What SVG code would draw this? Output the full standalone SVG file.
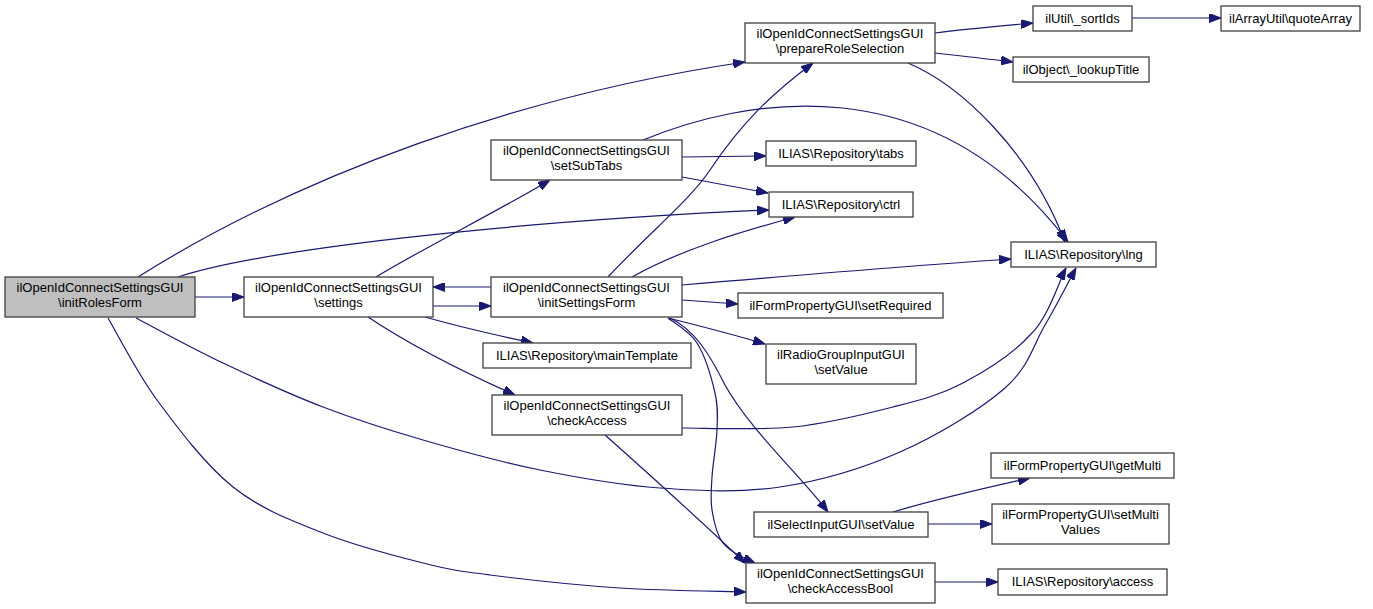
<svg xmlns="http://www.w3.org/2000/svg" width="1373" height="609" viewBox="0 0 1373 609">
<style>
.n rect{fill:#ffffff;stroke:#404040;stroke-width:1.3}
.n.root rect{fill:#bfbfbf}
.n text{font-family:"Liberation Sans",Arial,sans-serif;font-size:13px;fill:#000000;text-anchor:middle}
.e path{fill:none;stroke:#191970;stroke-width:1.2;marker-end:url(#ah)}
</style>
<defs>
<marker id="ah" markerUnits="userSpaceOnUse" markerWidth="12" markerHeight="9" refX="12" refY="4.5" orient="auto">
<path d="M0,0 L12,4.5 L0,9 z" fill="#191970" stroke="#191970" stroke-width="1"/>
</marker>
</defs>
<rect x="0" y="0" width="1373" height="609" fill="#ffffff"/>
<g id="edges" class="e">
<path d="M195,297 L244,297"/>
<path d="M138,277 C300,175 520,95 745,62"/>
<path d="M178,277 C260,250 500,222 769,210"/>
<path d="M136,318 C150.5,325.5 191.8,348.2 223,363 C254.2,377.8 289.7,394.2 323,407 C356.3,419.8 386.8,429.5 423,440 C459.2,450.5 500.5,462 540,470 C579.5,478 620,485.2 660,488 C700,490.8 740,493 780,487 C820,481 862.5,468.5 900,452 C937.5,435.5 980.8,409.2 1005,388 C1029.2,366.8 1033.2,345 1045,325 C1056.8,305 1070.8,277.5 1076,268"/>
<path d="M108,318 C116.2,331.7 136.2,371.8 157,400 C177.8,428.2 205.3,464.8 233,487 C260.7,509.2 291.3,520.3 323,533 C354.7,545.7 395.2,556 423,563 C450.8,570 457.2,570.8 490,575 C522.8,579.2 577.3,585.2 620,588 C662.7,590.8 725,591.3 746,592"/>
<path d="M376,277 C420,250 500,210 550,180"/>
<path d="M491,287 L433,287"/>
<path d="M433,306 L491,306"/>
<path d="M425,317 C460,327 500,336 533,343"/>
<path d="M368,317 C410,345 470,375 515,395"/>
<path d="M682,157 L766,156"/>
<path d="M682,177 L768,193"/>
<path d="M643,140 C740,100 930,60 1068,242"/>
<path d="M908,63 C960,85 1030,150 1065,242"/>
<path d="M608,277 C650,232 690,200 710,170 C740,125 770,95 813,63"/>
<path d="M632,277 C680,250 740,232 795,217"/>
<path d="M682,285 C800,275 920,265 1011,259"/>
<path d="M682,300 L738,304"/>
<path d="M668,318 C700,326 735,335 765,344"/>
<path d="M670,318 C695,330 710,355 725,385 C750,430 800,475 828,512"/>
<path d="M668,318 C672.8,322.2 689.2,330.5 697,343 C704.8,355.5 711.7,378.5 715,393 C718.3,407.5 717.5,416 717,430 C716.5,444 712.8,463.7 712,477 C711.2,490.3 710.2,499 712,510 C713.8,521 716.3,534.2 723,543 C729.7,551.8 747.2,559.7 755,563"/>
<path d="M605,435 C650,475 700,520 745,563"/>
<path d="M682,428 C700.5,427.8 757.8,430.5 793,427 C828.2,423.5 864.7,414.3 893,407 C921.3,399.7 940.2,395 963,383 C985.8,371 1012.8,354.2 1030,335 C1047.2,320.2 1060,279.2 1066,268"/>
<path d="M935,33 C965,29 1000,26 1033,23"/>
<path d="M935,53 C960,56 990,59 1013,62"/>
<path d="M1132,18 L1221,18"/>
<path d="M893,512 C940,498 990,487 1030,478"/>
<path d="M928,524 L992,524"/>
<path d="M935,582 L998,582"/>
</g>
<g id="node-initRolesForm" class="n root"><rect x="5" y="277" width="190" height="40"/><text x="100" y="292">ilOpenIdConnectSettingsGUI</text><text x="100" y="307">\initRolesForm</text></g>
<g id="node-settings" class="n"><rect x="244" y="277" width="189" height="40"/><text x="338.5" y="292">ilOpenIdConnectSettingsGUI</text><text x="338.5" y="307">\settings</text></g>
<g id="node-initSettingsForm" class="n"><rect x="491" y="277" width="191" height="40"/><text x="586.5" y="292">ilOpenIdConnectSettingsGUI</text><text x="586.5" y="307">\initSettingsForm</text></g>
<g id="node-setSubTabs" class="n"><rect x="491" y="140" width="191" height="40"/><text x="586.5" y="155">ilOpenIdConnectSettingsGUI</text><text x="586.5" y="170">\setSubTabs</text></g>
<g id="node-prepareRoleSelection" class="n"><rect x="745" y="23" width="190" height="40"/><text x="840" y="38">ilOpenIdConnectSettingsGUI</text><text x="840" y="53">\prepareRoleSelection</text></g>
<g id="node-sortIds" class="n"><rect x="1033" y="6" width="99" height="25"/><text x="1082.5" y="23">ilUtil\_sortIds</text></g>
<g id="node-quoteArray" class="n"><rect x="1221" y="6" width="139" height="25"/><text x="1290.5" y="23">ilArrayUtil\quoteArray</text></g>
<g id="node-lookupTitle" class="n"><rect x="1013" y="57" width="136" height="25"/><text x="1081" y="74">ilObject\_lookupTitle</text></g>
<g id="node-tabs" class="n"><rect x="766" y="141" width="150" height="25"/><text x="841" y="158">ILIAS\Repository\tabs</text></g>
<g id="node-ctrl" class="n"><rect x="769" y="192" width="144" height="25"/><text x="841" y="209">ILIAS\Repository\ctrl</text></g>
<g id="node-lng" class="n"><rect x="1011" y="242" width="145" height="25"/><text x="1083.5" y="259">ILIAS\Repository\lng</text></g>
<g id="node-setRequired" class="n"><rect x="738" y="293" width="205" height="25"/><text x="840.5" y="310">ilFormPropertyGUI\setRequired</text></g>
<g id="node-radioSetValue" class="n"><rect x="766" y="344" width="150" height="40"/><text x="841" y="359">ilRadioGroupInputGUI</text><text x="841" y="374">\setValue</text></g>
<g id="node-mainTemplate" class="n"><rect x="483" y="343" width="208" height="25"/><text x="587" y="360">ILIAS\Repository\mainTemplate</text></g>
<g id="node-checkAccess" class="n"><rect x="492" y="395" width="190" height="40"/><text x="587" y="410">ilOpenIdConnectSettingsGUI</text><text x="587" y="425">\checkAccess</text></g>
<g id="node-selectSetValue" class="n"><rect x="754" y="512" width="174" height="25"/><text x="841" y="529">ilSelectInputGUI\setValue</text></g>
<g id="node-getMulti" class="n"><rect x="991" y="453" width="183" height="25"/><text x="1082.5" y="470">ilFormPropertyGUI\getMulti</text></g>
<g id="node-setMultiValues" class="n"><rect x="992" y="504" width="177" height="40"/><text x="1080.5" y="519">ilFormPropertyGUI\setMulti</text><text x="1080.5" y="534">Values</text></g>
<g id="node-checkAccessBool" class="n"><rect x="746" y="563" width="189" height="40"/><text x="840.5" y="578">ilOpenIdConnectSettingsGUI</text><text x="840.5" y="593">\checkAccessBool</text></g>
<g id="node-access" class="n"><rect x="998" y="569" width="169" height="26"/><text x="1082.5" y="586">ILIAS\Repository\access</text></g>
</svg>
